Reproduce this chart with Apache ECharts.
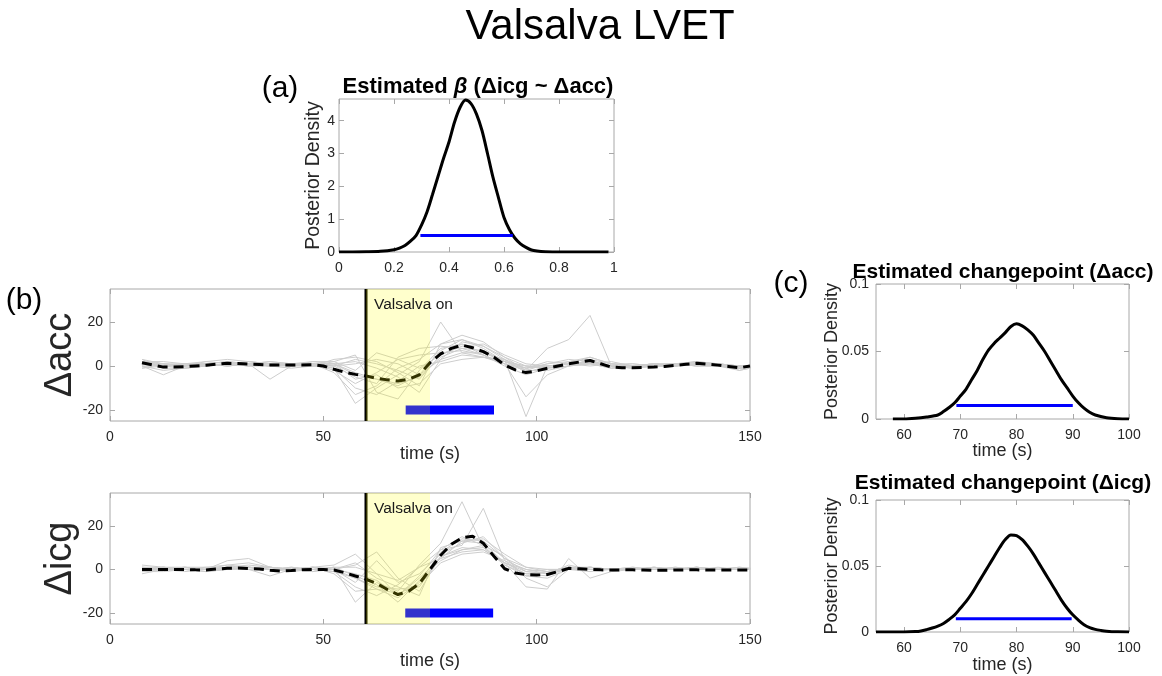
<!DOCTYPE html>
<html>
<head>
<meta charset="utf-8">
<title>Valsalva LVET</title>
<script src="https://cdn.jsdelivr.net/npm/echarts@6/dist/echarts.min.js"></script>
<style>
  html, body { margin: 0; padding: 0; background: #fff; }
  #chart { width: 1162px; height: 676px; }
</style>
</head>
<body>
<div id="chart"></div>
<script>
;(function () {
  'use strict';

  // (a) posterior of beta
  var betaX = [0, 0.05, 0.1, 0.15, 0.2, 0.22, 0.24, 0.26, 0.28, 0.3, 0.32, 0.34, 0.36, 0.38, 0.4, 0.42, 0.44, 0.46,
    0.48, 0.5, 0.52, 0.54, 0.56, 0.58, 0.6, 0.62, 0.64, 0.66, 0.68, 0.7, 0.72, 0.75, 0.8, 0.9, 0.98];
  var betaY = [0, 0, 0.005, 0.02, 0.07, 0.12, 0.2, 0.33, 0.5, 0.82, 1.22, 1.75, 2.3, 2.85, 3.35, 3.95, 4.4, 4.63,
    4.52, 4.2, 3.7, 3.0, 2.27, 1.65, 1.05, 0.68, 0.42, 0.25, 0.14, 0.06, 0.03, 0.01, 0, 0, 0];
  var betaHdi = [0.296, 0.632];
  var betaHdiLevel = 0.5;

  // (b) per-subject traces, sampled every 5 s
  var traceTimes = [7.5, 12.5, 17.5, 22.5, 27.5, 32.5, 37.5, 42.5, 47.5, 52.5, 57.5, 62.5, 67.5, 72.5, 77.5,
    82.5, 87.5, 92.5, 97.5, 102.5, 107.5, 112.5, 117.5, 122.5, 127.5, 132.5, 137.5, 142.5, 147.5, 152.5];

  var accTraces = [
    [2, 1, 0, 1, 2, 1, 0, 1, 0, 1, -3, -6, -8, -5, 4, 8, 7, 2, -1, 0, 1, 2, 0, -1, 0, 0, 1, 0, -1, 0],
    [3, -1, -1, 0, 1, 2, 1, 0, 1, -1, -17, -10, -4, 2, 20, 6, 4, 1, -2, 1, 3, 2, 0, 0, 1, 0, 1, 1, 0, 0],
    [0, -4, 0, 1, 0, 1, -6, 0, 2, 2, 5, -12, -15, -2, 8, 10, 6, 3, -23, 0, 1, 1, -1, 0, 0, 1, 1, 0, 0, 0],
    [1, 0, 1, 2, 1, 0, 1, 1, 0, 3, 4, 2, -3, -9, 10, 12, 8, 2, -2, 8, 12, 23, 0, -1, 0, 1, 2, 1, -2, 0],
    [-1, 1, 0, 0, 1, 1, 0, 0, 1, -2, -8, -3, 3, 5, 6, 7, 5, 1, -14, -4, 0, 1, 2, 0, 0, 1, 0, 0, -1, 0],
    [2, 0, 1, 1, 0, 1, 2, 1, 1, 1, 2, -1, -5, -12, 3, 11, 9, 4, 0, -1, 0, 3, -1, 0, 1, 1, 0, 1, 0, 0],
    [0, -2, -1, 0, 1, 0, 1, 0, 0, 0, -5, -8, 4, 8, 9, 8, 5, 1, -1, 2, 1, 0, 1, 1, 0, 0, 1, 0, 0, 0],
    [1, 1, 0, 1, 2, 1, 1, 1, 0, -1, -10, -13, -7, 0, 2, 5, 4, 2, 0, -1, 2, 3, 1, 0, 1, 0, 2, 1, -1, 0],
    [2, 2, 1, 0, 1, 2, 1, 0, 1, 0, 3, 1, -2, -6, 5, 9, 10, 5, 1, 0, 1, 2, 0, -1, 0, 0, 1, 1, 0, 0],
    [-1, 0, 0, 1, 0, 1, 0, 1, 2, 1, -4, -6, -9, -4, 7, 12, 9, 3, -3, 0, 1, 4, 1, 0, 0, 1, 0, 0, -1, 0],
    [1, 0, -1, 0, 1, 0, 0, -1, 0, 2, -2, 6, 3, -1, 5, 10, 5, 0, -4, -1, 0, 2, 0, 0, 1, 1, 2, 0, 0, 0],
    [3, 1, 0, 2, 3, 2, 1, 0, 1, 1, -6, -4, -10, -8, 1, 3, 4, 3, -1, 1, 2, 4, 1, 0, 0, 0, 1, 0, -2, 0],
    [0, 0, 1, 1, 0, 1, 2, 1, 1, -3, -13, -9, -1, 3, 10, 14, 11, 4, -2, -2, 0, 1, 0, 1, 0, 1, 1, 1, 0, 0],
    [2, 1, 1, 0, 1, 1, 0, 1, 1, 0, 1, 3, 1, -4, 3, 6, 6, 2, 0, 0, 1, 1, -1, 0, 1, 0, 2, 0, -1, 0]
  ];

  var icgTraces = [
    [0, 1, 0, -1, 0, 1, 0, 0, 1, 0, -4, -9, -13, -6, 8, 14, 13, 5, -1, -2, 0, 0, 0, 0, 0, 0, 1, 0, 0, 0],
    [-2, 0, 1, 0, 4, 5, 1, 0, 0, 1, -15, -6, -10, 2, 12, 31, 10, 2, -2, -1, 0, 1, 0, 0, 1, 0, 0, 1, 0, 0],
    [1, 0, -1, 0, 1, 0, -3, 0, 1, 2, 7, -2, -12, -3, 9, 11, 28, 4, -3, -1, 1, 0, 0, 0, 0, 1, 0, 0, 0, 0],
    [0, 1, 1, 0, 0, 1, 1, 0, -1, 0, 2, 8, -4, -10, 6, 10, 9, 3, -8, -9, 5, -4, -1, 0, 1, 0, 1, 0, 0, 0],
    [1, 0, 0, 1, 2, 1, 0, 1, 0, -1, -8, -12, -7, 1, 5, 8, 9, 3, -1, 0, 0, 1, 0, 0, 0, 0, 0, 0, 0, 0],
    [-1, -1, 0, 0, 0, 1, 0, -1, 0, 0, 3, -4, -8, -12, 10, 13, 12, 3, -2, -3, 1, 0, 0, 1, 0, 0, 0, 0, 1, 0],
    [0, 1, 0, 0, 1, 2, 1, 0, 0, 1, -3, -7, -15, -5, 4, 9, 11, 6, -4, -8, 0, 1, 0, 0, 0, 0, 1, 0, 0, 0],
    [2, 1, 0, 0, 1, 0, 1, 0, 1, 0, -6, 4, -6, -2, 7, 12, 15, 5, 1, -1, 1, 0, 0, 0, 0, 1, 0, 0, 0, 0],
    [0, 0, 1, 1, 0, 1, 0, 0, 1, -2, -10, -9, -11, -7, 3, 7, 8, 4, 0, -2, 2, 0, 0, 0, 0, 0, 1, 0, 0, 0],
    [-1, 0, 0, -1, 0, 0, 1, 0, -1, 1, 1, -2, -5, 1, 9, 15, 11, 2, -3, -4, 0, -1, 0, 0, 1, 0, 0, 0, 0, 0],
    [1, 1, 0, 0, 1, 1, 0, 1, 0, -1, -4, -8, -9, -8, 6, 9, 10, 3, 0, -1, 1, 1, 0, 0, 0, 0, 0, 0, 1, 0],
    [0, 0, 1, 0, 2, 3, 1, 0, 1, 0, -2, -5, -12, -4, 5, 13, 14, 7, 1, 0, 0, 1, 0, 1, 0, 0, 0, 0, 0, 0]
  ];

  // group mean, every 2.5 s
  var meanTimes = [7.5, 10, 12.5, 15, 17.5, 20, 22.5, 25, 27.5, 30, 32.5, 35, 37.5, 40, 42.5, 45, 47.5, 50,
    52.5, 55, 57.5, 60, 62.5, 65, 67.5, 70, 72.5, 75, 77.5, 80, 82.5, 85, 87.5, 90, 92.5, 95, 97.5, 100,
    102.5, 105, 107.5, 110, 112.5, 115, 117.5, 120, 122.5, 125, 127.5, 130, 132.5, 135, 137.5, 140, 142.5,
    145, 147.5, 150];
  var meanAcc = [1.5, 0.5, -0.5, -0.5, -0.3, 0, 0.3, 0.8, 1.2, 1.1, 0.9, 0.7, 0.5, 0.5, 0.5, 0.5, 0.6, 0,
    -1.5, -2.8, -3.8, -4.5, -5.6, -6.3, -6.8, -6, -4, 1.5, 5.5, 8, 9.5, 8.3, 6.5, 4, 0.5, -1.8, -3, -2.2,
    -1, 0, 1, 1.8, 2.5, 1, -0.5, -0.8, -0.8, -0.7, -0.5, -0.2, 0.3, 0.8, 1.2, 0.8, 0.4,
    -0.2, -0.8, 0];
  var meanIcg = [0, 0, 0, 0, 0, -0.2, -0.3, 0.2, 0.5, 0.6, 0.4, 0.2, -0.4, -0.7, -0.5, -0.1, 0, 0,
    -0.3, -1.5, -3, -4.5, -6.4, -9.2, -11.5, -10, -6.5, 0, 6.5, 11.5, 14.5, 15.2, 12, 6, 0.3, -1.6, -2.4, -2.6,
    -2.3, -1, 0.5, 0.3, 0, -0.2, -0.3, -0.2, -0.2, -0.3, -0.4, -0.4, -0.3, -0.2, -0.2, -0.3, -0.3,
    -0.3, -0.3, -0.3];

  var valsalvaWindow = [60, 75];
  var changeHdiAcc = [69.3, 90];
  var changeHdiIcg = [69.2, 89.8];
  var hdiBarLevel = -20;

  // (c) posterior of changepoint
  var cpAccX = [58, 60, 62, 64, 66, 67, 68, 69, 70, 71, 72, 73, 74, 75, 76, 77, 78, 79, 80, 81, 82, 83, 84, 85,
    86, 87, 88, 89, 90, 91, 92, 93, 94, 96, 98, 100];
  var cpAccY = [0, 0, 0.0005, 0.0015, 0.003, 0.0055, 0.0085, 0.012, 0.017, 0.022, 0.029, 0.036, 0.044, 0.051,
    0.056, 0.060, 0.064, 0.0685, 0.0705, 0.069, 0.066, 0.062, 0.056, 0.050, 0.043, 0.036, 0.029, 0.023, 0.017,
    0.012, 0.008, 0.005, 0.003, 0.001, 0.0002, 0];
  var cpIcgX = [55, 60, 62, 63, 64, 65, 66, 67, 68, 69, 70, 71, 72, 73, 74, 75, 76, 77, 78, 79, 80, 81, 82, 83,
    84, 85, 86, 87, 88, 89, 90, 91, 92, 93, 94, 95, 96, 98, 100];
  var cpIcgY = [0, 0, 0.0003, 0.0008, 0.0018, 0.003, 0.0045, 0.0065, 0.0095, 0.013, 0.018, 0.023, 0.029, 0.036,
    0.043, 0.050, 0.057, 0.064, 0.070, 0.0735, 0.073, 0.070, 0.065, 0.059, 0.052, 0.045, 0.038, 0.031, 0.024,
    0.018, 0.013, 0.009, 0.0055, 0.0033, 0.002, 0.0012, 0.0006, 0.0001, 0];
  var cpHdiLevel = 0.01;

  // tick labels
  var betaXTicks = [0, 0.2, 0.4, 0.6, 0.8, 1];
  var betaYTicks = [0, 1, 2, 3, 4];
  var timeTicks = [0, 50, 100, 150];
  var deltaTicks = [-20, 0, 20];
  var cpTimeTicks = [60, 70, 80, 90, 100];
  var cpDensTicks = [0, 0.05, 0.1];

  var FONT = '"Liberation Sans", Arial, Helvetica, sans-serif';
  var BOX = '#a8a8a8';
  var INK = '#262626';

  var grids = [
    { left: 339, top: 99, width: 275, height: 153 },
    { left: 110, top: 289, width: 640, height: 132 },
    { left: 110, top: 493, width: 640, height: 131 },
    { left: 876, top: 284, width: 253, height: 135 },
    { left: 876, top: 500, width: 253, height: 132 }
  ].map(function (g) {
    return Object.assign({ show: true, borderColor: BOX, borderWidth: 1, backgroundColor: 'transparent' }, g);
  });

  var xAxes = [];
  var yAxes = [];

  function addAxes(list, dir, gridIndex, min, max, ticks, name, nameGap, nameSize, labelMargin) {
    var base = {
      type: 'value', gridIndex: gridIndex, min: min, max: max,
      axisLine: { show: false, onZero: false },
      splitLine: { show: false },
      axisTick: { show: true, inside: true, length: 5, lineStyle: { color: BOX }, customValues: ticks }
    };
    list.push(Object.assign({}, base, {
      position: dir === 'x' ? 'bottom' : 'left',
      axisLabel: {
        show: true, customValues: ticks, color: INK, fontFamily: FONT, fontSize: 14,
        margin: labelMargin != null ? labelMargin : (dir === 'x' ? 9 : 7)
      },
      name: name,
      nameLocation: 'middle',
      nameGap: nameGap,
      nameMoveOverlap: false,
      nameTextStyle: { color: INK, fontFamily: FONT, fontSize: nameSize || 18 }
    }));
    list.push(Object.assign({}, base, {
      position: dir === 'x' ? 'top' : 'right',
      axisLabel: { show: false }
    }));
  }

  addAxes(xAxes, 'x', 0, 0, 1, betaXTicks, '', 0);
  addAxes(yAxes, 'y', 0, 0, 4.66, betaYTicks, 'Posterior Density', 15, 19.5, 4);
  addAxes(xAxes, 'x', 1, 0, 150, timeTicks, 'time (s)', 24);
  addAxes(yAxes, 'y', 1, -25, 35, deltaTicks, 'Δacc', 30, 38);
  addAxes(xAxes, 'x', 2, 0, 150, timeTicks, 'time (s)', 28);
  addAxes(yAxes, 'y', 2, -25, 35, deltaTicks, 'Δicg', 30, 38);
  addAxes(xAxes, 'x', 3, 55, 100, cpTimeTicks, 'time (s)', 23);
  addAxes(yAxes, 'y', 3, 0, 0.1, cpDensTicks, 'Posterior Density', 35);
  addAxes(xAxes, 'x', 4, 55, 100, cpTimeTicks, 'time (s)', 24);
  addAxes(yAxes, 'y', 4, 0, 0.1, cpDensTicks, 'Posterior Density', 35);

  function zip(xs, ys) {
    return xs.map(function (x, i) { return [x, ys[i]]; });
  }

  function line(panel, data, style, extra) {
    return Object.assign({
      type: 'line', xAxisIndex: panel * 2, yAxisIndex: panel * 2,
      data: data, showSymbol: false, symbol: 'none', silent: true, animation: false,
      lineStyle: style
    }, extra || {});
  }

  function renderValsalva(params, api) {
    var cs = params.coordSys;
    var x0 = api.coord([api.value(0), 0])[0];
    var x1 = api.coord([api.value(1), 0])[0];
    return {
      type: 'group',
      children: [
        { type: 'rect', shape: { x: x0, y: cs.y, width: x1 - x0, height: cs.height },
          style: { fill: 'rgba(255,255,0,0.2)' } },
        { type: 'text', x: x0 + 8, y: cs.y + 8,
          style: { text: 'Valsalva on', fill: '#1a1a1a', font: '15.5px ' + FONT, verticalAlign: 'top' } }
      ]
    };
  }

  function timePanel(panel, traces, mean, hdi) {
    var out = traces.map(function (tr) {
      return line(panel, zip(traceTimes, tr), { color: '#cdcdcd', width: 1 }, { z: 2 });
    });
    out.push(line(panel, [[valsalvaWindow[0], -25], [valsalvaWindow[0], 35]], { color: '#000', width: 3 }, { z: 3 }));
    out.push(line(panel, zip(meanTimes, mean), { color: '#000', width: 3, type: [10, 6] }, { z: 3 }));
    out.push(line(panel, [[hdi[0], hdiBarLevel], [hdi[1], hdiBarLevel]], { color: '#0000ff', width: 9, cap: 'butt' }, { z: 3 }));
    out.push({
      type: 'custom', xAxisIndex: panel * 2, yAxisIndex: panel * 2, z: 5, silent: true, animation: false,
      data: [valsalvaWindow], encode: { x: [0, 1] }, renderItem: renderValsalva
    });
    return out;
  }

  var curve = { color: '#000', width: 3 };
  var hdiLine = { color: '#0000ff', width: 3 };

  var series = [
    line(0, zip(betaX, betaY), curve, { smooth: 0.3 }),
    line(0, [[betaHdi[0], betaHdiLevel], [betaHdi[1], betaHdiLevel]], hdiLine)
  ]
    .concat(timePanel(1, accTraces, meanAcc, changeHdiAcc))
    .concat(timePanel(2, icgTraces, meanIcg, changeHdiIcg))
    .concat([
      line(3, zip(cpAccX, cpAccY), curve, { smooth: 0.3 }),
      line(3, [[changeHdiAcc[0], cpHdiLevel], [changeHdiAcc[1], cpHdiLevel]], hdiLine),
      line(4, zip(cpIcgX, cpIcgY), curve, { smooth: 0.3 }),
      line(4, [[changeHdiIcg[0], cpHdiLevel], [changeHdiIcg[1], cpHdiLevel]], hdiLine)
    ]);

  function label(text, x, y, size, weight) {
    return {
      type: 'text', x: x, y: y, silent: true,
      style: { text: text, fill: '#000', font: (weight || 'normal') + ' ' + size + 'px ' + FONT,
        align: 'center', verticalAlign: 'middle' }
    };
  }

  var graphics = [
    label('Valsalva LVET', 600, 27, 42),
    label('(a)', 280, 89, 30),
    label('(b)', 24, 301, 30),
    label('(c)', 791, 284, 30),
    {
      type: 'text', x: 478, y: 87, silent: true,
      style: {
        text: '{b|Estimated }{i|β}{b| (Δicg ~ Δacc)}',
        align: 'center', verticalAlign: 'middle',
        rich: {
          b: { fontFamily: FONT, fontSize: 22, fontWeight: 'bold', fill: '#000' },
          i: { fontFamily: FONT, fontSize: 22, fontWeight: 'bold', fontStyle: 'italic', fill: '#000' }
        }
      }
    },
    label('Estimated changepoint (Δacc)', 1003, 272, 21, 'bold'),
    label('Estimated changepoint (Δicg)', 1003, 483, 21, 'bold')
  ];

  var chart = echarts.init(document.getElementById('chart'));
  chart.setOption({
    backgroundColor: '#fff',
    animation: false,
    grid: grids,
    xAxis: xAxes,
    yAxis: yAxes,
    series: series,
    graphic: graphics
  });
})();
</script>
</body>
</html>
